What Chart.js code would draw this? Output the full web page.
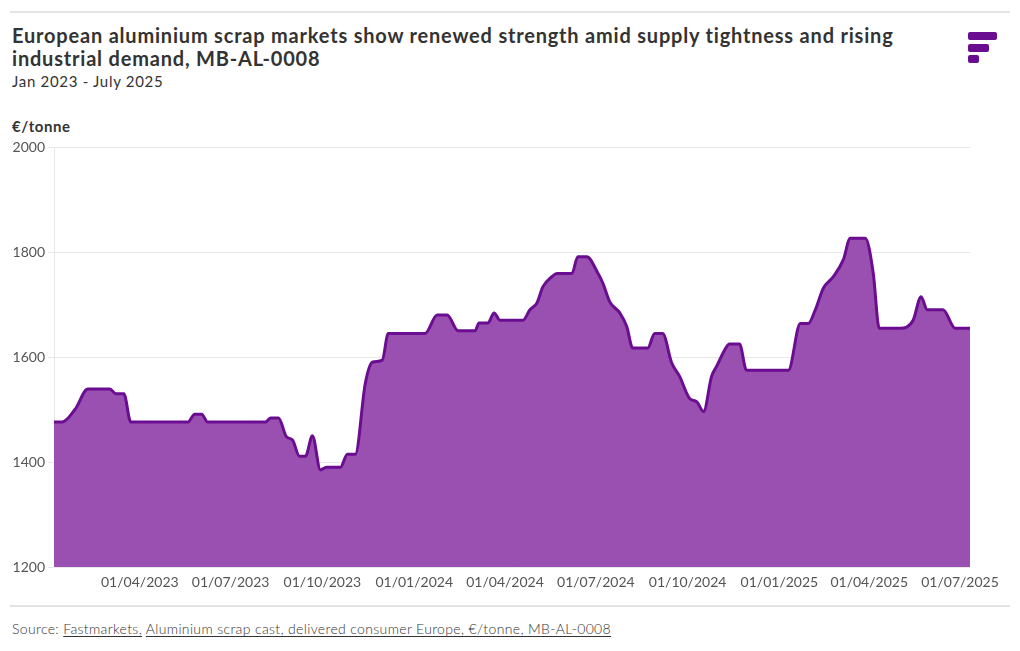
<!DOCTYPE html>
<html>
<head>
<meta charset="utf-8">
<script src="https://cdn.jsdelivr.net/npm/chart.js@4.4.1/dist/chart.umd.min.js"></script>
<style>
  body { margin: 0; background: #fff; font-family: Lato, "Open Sans", sans-serif; color: #333; }
  #page { position: relative; width: 1020px; height: 651px; overflow: hidden; }
  .rule { position: absolute; left: 10px; width: 1000px; height: 2px; background: #e4e4e4; }
  #title { position: absolute; left: 12px; top: 24px; width: 910px; font-size: 20px; font-weight: 700; line-height: 23px; letter-spacing: 0.8px; color: #333; }
  #subtitle { position: absolute; left: 12px; top: 72px; font-size: 15px; letter-spacing: 0.7px; color: #333; }
  #unit { position: absolute; left: 12px; top: 117px; font-size: 15px; font-weight: 700; letter-spacing: 0.6px; color: #333; }
  #source { position: absolute; left: 12px; top: 620px; font-size: 14px; font-weight: 300; letter-spacing: 0.35px; color: #333; }
  #source u { text-underline-offset: 2px; }
  .logo { position: absolute; left: 968px; height: 8px; border-radius: 2px; background: #6a0d91; }
  #wrap { position: absolute; left: 0; top: 135px; width: 1020px; height: 462px; }
</style>
</head>
<body>
<div id="page">
  <div class="rule" style="top:11px"></div>
  <div id="title">European aluminium scrap markets show renewed strength amid supply tightness and rising industrial demand, MB-AL-0008</div>
  <div id="subtitle">Jan 2023 - July 2025</div>
  <div id="unit">€/tonne</div>
  <div class="logo" style="top:32px;width:29px"></div>
  <div class="logo" style="top:44px;width:21px"></div>
  <div class="logo" style="top:55px;width:11px"></div>
  <div id="wrap"><canvas id="chart"></canvas></div>
  <div class="rule" style="top:605px"></div>
  <div id="source">Source: <u>Fastmarkets,</u> <u>Aluminium scrap cast, delivered consumer Europe, €/tonne, MB-AL-0008</u></div>
</div>
<script>
const dates = [
  '2023-01-05', '2023-01-13', '2023-01-26', '2023-02-08', '2023-03-02', '2023-03-08',
  '2023-03-16', '2023-03-23', '2023-05-19', '2023-05-26', '2023-06-02', '2023-06-08',
  '2023-08-05', '2023-08-10', '2023-08-18', '2023-08-26', '2023-09-01', '2023-09-08',
  '2023-09-14', '2023-09-21', '2023-09-29', '2023-10-05', '2023-10-19', '2023-10-26',
  '2023-11-03', '2023-11-13', '2023-11-20', '2023-11-30', '2023-12-06', '2024-01-12',
  '2024-01-24', '2024-02-03', '2024-02-14', '2024-03-02', '2024-03-06', '2024-03-15',
  '2024-03-21', '2024-03-27', '2024-04-19', '2024-04-26', '2024-05-03', '2024-05-09',
  '2024-05-18', '2024-05-23', '2024-06-07', '2024-06-13', '2024-06-22', '2024-07-03',
  '2024-07-08', '2024-07-15', '2024-07-25', '2024-08-01', '2024-08-07', '2024-08-22',
  '2024-08-29', '2024-09-06', '2024-09-15', '2024-09-23', '2024-10-03', '2024-10-10',
  '2024-10-17', '2024-10-25', '2024-10-30', '2024-11-07', '2024-11-12', '2024-11-22',
  '2024-11-29', '2025-01-10', '2025-01-22', '2025-01-30', '2025-02-06', '2025-02-14',
  '2025-02-24', '2025-03-06', '2025-03-13', '2025-03-28', '2025-04-05', '2025-04-11',
  '2025-05-02', '2025-05-15', '2025-05-23', '2025-05-29', '2025-06-14', '2025-06-26',
  '2025-07-11'
];
const prices = [
  1476, 1476, 1500, 1539, 1539, 1530,
  1530, 1476, 1476, 1491, 1491, 1476,
  1476, 1484, 1484, 1448, 1442, 1411,
  1411, 1450, 1385, 1390, 1390, 1415,
  1415, 1550, 1590, 1594, 1645, 1645,
  1680, 1680, 1650, 1650, 1665, 1665,
  1684, 1670, 1670, 1690, 1703, 1734,
  1753, 1759, 1759, 1791, 1791, 1760,
  1741, 1705, 1684, 1658, 1617, 1617,
  1645, 1645, 1589, 1563, 1521, 1515,
  1496, 1563, 1582, 1613, 1625, 1625,
  1575, 1575, 1664, 1664, 1690, 1731,
  1753, 1785, 1826, 1826, 1760, 1655,
  1655, 1670, 1715, 1690, 1690, 1655,
  1655
];
const tickDates = [
  '2023-04-01', '2023-07-01', '2023-10-01', '2024-01-01', '2024-04-01',
  '2024-07-01', '2024-10-01', '2025-01-01', '2025-04-01', '2025-07-01'
];
const yTicks = [1200, 1400, 1600, 1800, 2000];

function dayOf(s) {
  const [y, m, d] = s.split('-').map(Number);
  return (Date.UTC(y, m - 1, d) - Date.UTC(2023, 0, 1)) / 86400000;
}
function labelOf(day) {
  const dt = new Date(Date.UTC(2023, 0, 1) + day * 86400000);
  const p = n => String(n).padStart(2, '0');
  return p(dt.getUTCDate()) + '/' + p(dt.getUTCMonth() + 1) + '/' + dt.getUTCFullYear();
}

const points = dates.map((d, i) => ({ x: dayOf(d), y: prices[i] }));
const tickFont = { family: 'Lato', size: 14 };

new Chart(document.getElementById('chart'), {
  type: 'line',
  data: {
    datasets: [{
      data: points,
      borderColor: '#6a0d91',
      backgroundColor: '#9a50b0',
      borderWidth: 3,
      fill: 'start',
      pointRadius: 0,
      cubicInterpolationMode: 'monotone'
    }]
  },
  options: {
    responsive: true,
    maintainAspectRatio: false,
    animation: false,
    layout: { padding: { left: 12, right: 50, top: 12, bottom: 0 } },
    plugins: { legend: { display: false }, tooltip: { enabled: false } },
    scales: {
      x: {
        type: 'linear',
        min: dayOf(dates[0]),
        max: dayOf(dates[dates.length - 1]),
        afterBuildTicks: scale => { scale.ticks = tickDates.map(d => ({ value: dayOf(d) })); },
        afterFit: scale => { scale.height = 30; },
        grid: { display: false, drawTicks: false },
        border: { display: false },
        ticks: {
          padding: 7,
          maxRotation: 0,
          autoSkip: false,
          color: '#555',
          font: tickFont,
          callback: v => labelOf(v)
        }
      },
      y: {
        min: 1200,
        max: 2000,
        afterBuildTicks: scale => { scale.ticks = yTicks.map(v => ({ value: v })); },
        afterFit: scale => { scale.width = 42; },
        grid: { color: '#e8e8e8', tickLength: 6, lineWidth: 1 },
        border: { display: true, color: '#e8e8e8' },
        ticks: { padding: 3, color: '#555', font: tickFont, callback: v => String(v) }
      }
    }
  }
});
</script>
</body>
</html>
